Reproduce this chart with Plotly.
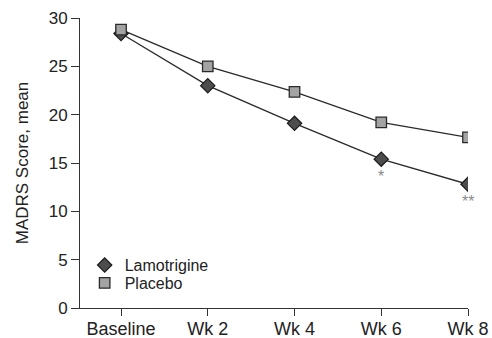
import plotly.graph_objects as go

categories = ["Baseline", "Wk 2", "Wk 4", "Wk 6", "Wk 8"]
lamotrigine = [28.4, 23.0, 19.1, 15.4, 12.8]
placebo = [28.8, 25.0, 22.35, 19.2, 17.65]
significance = ["", "", "", "*", "**"]
y_ticks = [0, 5, 10, 15, 20, 25, 30]

FONT = "Liberation Sans, Arial, sans-serif"
TXT = "#222222"
xs = list(range(len(categories)))

lam_marker = dict(symbol="diamond", size=11, color="#4d4d4d", line=dict(color="#1a1a1a", width=1.2))
pla_marker = dict(symbol="square", size=10.5, color="#a3a3a3", line=dict(color="#2a2a2a", width=1.3))

fig = go.Figure()
for vals in (lamotrigine, placebo):
    fig.add_trace(go.Scatter(x=xs, y=vals, mode="lines", showlegend=False,
                             line=dict(color="#2a2a2a", width=1.3), hoverinfo="skip"))
fig.add_trace(go.Scatter(x=xs, y=lamotrigine, name="Lamotrigine", mode="markers",
                         marker=lam_marker, legend="legend"))
fig.add_trace(go.Scatter(x=xs, y=placebo, name="Placebo", mode="markers",
                         marker=pla_marker, legend="legend2"))

for i, s in enumerate(significance):
    if s:
        fig.add_annotation(x=xs[i], y=lamotrigine[i], text=s, showarrow=False,
                           yshift=-17, font=dict(family=FONT, size=16, color="#8a8a8a"))

leg = dict(xanchor="left", yanchor="middle", font=dict(family=FONT, size=16, color=TXT),
           bgcolor="rgba(0,0,0,0)", borderwidth=0)

fig.update_layout(
    width=492, height=338,
    margin=dict(l=80, r=24, t=17.5, b=30),
    paper_bgcolor="white", plot_bgcolor="white",
    font=dict(family=FONT, size=17, color=TXT),
    showlegend=True,
    legend=dict(leg, x=0.012, y=43 / 290.5),
    legend2=dict(leg, x=0.012, y=25 / 290.5),
    xaxis=dict(
        range=[-0.473, 4], tickmode="array", tickvals=xs, ticktext=categories,
        showline=True, linecolor="#333333", linewidth=1,
        ticks="outside", ticklen=7, tickcolor="#333333", tickwidth=1,
        ticklabelstandoff=-3,
        showgrid=False, zeroline=False, automargin=False,
        tickfont=dict(family=FONT, size=18, color=TXT),
    ),
    yaxis=dict(
        range=[0, 30], tickmode="array", tickvals=y_ticks,
        showline=True, linecolor="#333333", linewidth=1,
        ticks="outside", ticklen=8, tickcolor="#333333", tickwidth=1,
        showgrid=False, zeroline=False, automargin=False,
        title=dict(text="MADRS Score, mean", font=dict(family=FONT, size=17, color=TXT)),
        tickfont=dict(family=FONT, size=17, color=TXT),
    ),
)

fig.write_html("out.html", config={"displayModeBar": False},
               post_script="document.body.style.margin='0';document.body.style.overflow='hidden';")
